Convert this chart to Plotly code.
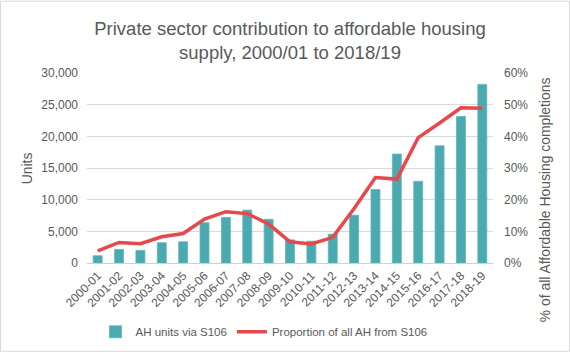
import plotly.graph_objects as go

years = ["2000-01", "2001-02", "2002-03", "2003-04", "2004-05", "2005-06", "2006-07",
         "2007-08", "2008-09", "2009-10", "2010-11", "2011-12", "2012-13", "2013-14",
         "2014-15", "2015-16", "2016-17", "2017-18", "2018-19"]
ah_units = [1150, 2150, 2000, 3200, 3350, 6350, 7200, 8350, 6900, 3650, 3450, 4550,
            7550, 11600, 17200, 12900, 18500, 23150, 28200]
proportion = [0.038, 0.065, 0.061, 0.083, 0.093, 0.139, 0.162, 0.156, 0.123, 0.067,
              0.060, 0.081, 0.172, 0.270, 0.265, 0.396, 0.442, 0.490, 0.489]

GREY = "#595959"
FONT = "Liberation Sans, Arial, sans-serif"

fig = go.Figure()
fig.add_trace(go.Bar(x=years, y=ah_units, name="AH units via S106",
                     marker=dict(color="#4BA9B0", line=dict(color="#5FB6BC", width=0.8)),
                     yaxis="y"))
fig.add_trace(go.Scatter(x=years, y=proportion, name="Proportion of all AH from S106",
                         mode="lines", line=dict(color="#E8474C", width=3.5),
                         yaxis="y2"))

L, R, T, B = 87, 493, 72.5, 263
W, H = 570, 352
pw, ph = R - L, B - T

fig.update_layout(
    width=W, height=H,
    margin=dict(l=L, r=W - R, t=T, b=H - B, autoexpand=False),
    paper_bgcolor="white", plot_bgcolor="white",
    font=dict(family=FONT, size=12, color=GREY),
    title=dict(text="Private sector contribution to affordable housing<br>supply, 2000/01 to 2018/19",
               x=0.5, xref="paper", xanchor="center", y=1 - 35 / H, yanchor="middle",
               font=dict(size=18.5, color=GREY, family=FONT)),
    bargap=0.58,
    showlegend=True,
    legend=dict(orientation="h", x=(264 - L) / pw, xanchor="center", y=(B - 332) / ph,
                yanchor="middle", font=dict(size=11.5, color=GREY), tracegroupgap=0),
    xaxis=dict(type="category", tickangle=-45, showgrid=False, showline=True,
               linecolor="#D0D0D0", linewidth=1,
               ticks="", tickfont=dict(size=12, color=GREY)),
    yaxis=dict(range=[0, 30000], dtick=5000, tickformat=",", showgrid=True, gridcolor="#D9D9D9",
               gridwidth=1, zeroline=False, ticks="", tickfont=dict(size=12, color=GREY),
               ticklabelstandoff=8),
    yaxis2=dict(range=[0, 0.6], dtick=0.1, tickformat=".0%", overlaying="y", side="right",
                showgrid=False, zeroline=False, ticks="", tickfont=dict(size=12, color=GREY),
                ticklabelstandoff=10),
    annotations=[
        dict(text="Units", x=(27 - L) / pw, y=(B - 168) / ph, xref="paper", yref="paper",
             textangle=-90, showarrow=False, font=dict(size=13.9, color=GREY),
             xanchor="center", yanchor="middle"),
        dict(text="% of all Affordable Housing completions", x=(545 - L) / pw, y=(B - 200) / ph,
             xref="paper", yref="paper", textangle=-90, showarrow=False,
             font=dict(size=13.9, color=GREY), xanchor="center", yanchor="middle"),
    ],
    shapes=[dict(type="rect", xref="paper", yref="paper",
                 x0=(0.5 - L) / pw, x1=(W - 0.5 - L) / pw,
                 y0=(B - (H - 0.5)) / ph, y1=(B - 0.5) / ph,
                 line=dict(color="#D9D9D9", width=1), fillcolor="rgba(0,0,0,0)")],
)

fig.write_html("out.html")
